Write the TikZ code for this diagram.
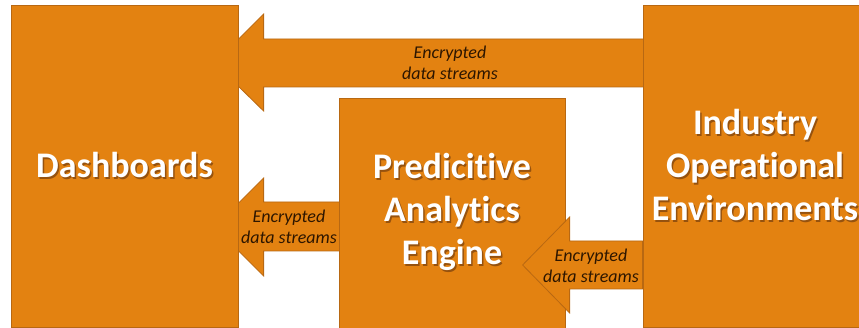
\documentclass[tikz,border=0pt]{standalone}
\usepackage{fontspec}
\setmainfont{Carlito}[Ligatures=NoCommon]
\usetikzlibrary{calc,backgrounds}

\definecolor{boxfill}{RGB}{227,130,17}
\definecolor{boxline}{RGB}{184,104,18}
\definecolor{shade}{RGB}{150,82,14}
\definecolor{labeltext}{RGB}{45,22,0}

% white text with a small dark shadow
\newcommand\shtext[1]{\makebox[0pt][l]{\hspace{1.5pt}\raisebox{-1.5pt}{\textcolor{shade}{#1}}}#1}

\tikzset{
  box/.style={draw=boxline, fill=boxfill, line width=0.8pt, inner sep=0pt,
    align=center, text=white, font=\bfseries\fontsize{36}{43}\selectfont},
  flow/.style={draw=boxline, fill=boxfill, line width=0.8pt, line join=miter},
  flowlabel/.style={align=center, text=labeltext, inner sep=0pt,
    font=\itshape\fontsize{18}{21}\selectfont}
}

\begin{document}
\begin{tikzpicture}[x=1pt, y=-1pt]
\useasboundingbox (0,0) rectangle (859,328);
\clip (0,0) rectangle (859,328);

\node (dash) [box, minimum width=227pt, minimum height=322pt] at (124.5,166) {\shtext{Dashboards}};
\node (pred) [box, minimum width=226pt, minimum height=230pt] at (452,213) {\shtext{Predicitive}\\\shtext{Analytics}\\\shtext{Engine}};
\node (ind) [box, minimum width=224pt, minimum height=322pt] at (755,166) {\shtext{Industry}\\\shtext{Operational}\\\shtext{Environments}};

% arrows behind the boxes
\begin{scope}[on background layer]
\fill[white] (0,0) rectangle (859,328);
\draw[flow] ($(ind.west)+(8,-127)$) -- ++(-387,0) -- ++(0,-25) -- ++(-49,49) -- ++(49,48) -- ++(0,-24) -- ++(387,0) -- cycle;
\draw[flow] ($(pred.west)+(8,-11)$) -- ++(-83,0) -- ++(0,-24) -- ++(-49,49) -- ++(49,49) -- ++(0,-25) -- ++(83,0) -- cycle;
\end{scope}

% arrow over the engine box
\draw[flow] ($(ind.west)+(0,75)$) -- ++(-73,0) -- ++(0,-24) -- ++(-47,48) -- ++(47,48) -- ++(0,-24) -- ++(73,0) -- cycle;

\node (lbltop) [flowlabel] at (450,62.5) {Encrypted\\data streams};
\node (lblmid) [flowlabel] at (289,226.5) {Encrypted\\data streams};
\node (lblbot) [flowlabel] at (591,265.5) {Encrypted\\data streams};
\end{tikzpicture}
\end{document}
